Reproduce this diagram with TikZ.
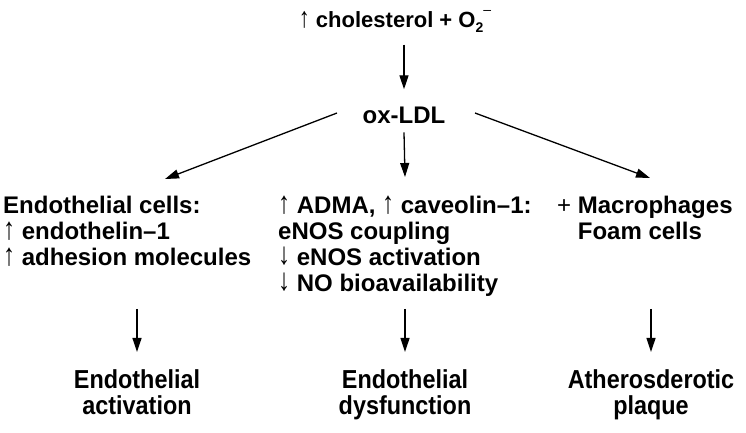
\documentclass[tikz,border=0pt]{standalone}
\usepackage{fontspec}
\setmainfont{Liberation Sans}
\newfontfamily\bfam{Liberation Sans}[UprightFont=* Bold]
\newfontfamily\nfam{Liberation Sans}[UprightFont=* Bold, FakeStretch=0.9]
\newfontfamily\rfam{Liberation Sans}
\usetikzlibrary{arrows.meta}
\newcommand{\upar}{\smash{\scalebox{1}[1.3]{\rfam ↑}}}
\newcommand{\dnar}{\smash{\raisebox{1pt}{\scalebox{1}[1.3]{\rfam ↓}}}}
\newcommand{\smallfs}{\fontsize{14}{14}\selectfont}
\newcommand{\Otwominus}{O\raisebox{-0.25em}{\smallfs 2}\raisebox{0.55em}{\smallfs\rfam –}}
\begin{document}
\begin{tikzpicture}[x=1pt,y=-1pt,
  txt/.style={font=\bfam\fontsize{24}{26}\selectfont, inner sep=0pt, align=left},
  res/.style={font=\nfam\fontsize{26}{26}\selectfont, inner sep=0pt, align=center},
  arr/.style={line width=1.3pt, -{Triangle[length=14pt,width=9pt]}}]
\useasboundingbox (0,0) rectangle (746,432);

\node[txt, font=\bfam\fontsize{22}{26}\selectfont, anchor=base] (top) at (395,27) {\upar\ cholesterol + \Otwominus};
\node[txt, anchor=base] (ox) at (404,123) {ox-LDL};

\node[txt, anchor=base west] (ec) at (3,265) {Endothelial cells:\\\upar\ endothelin–1\\\upar\ adhesion molecules};
\node[txt, anchor=base west] (en) at (278,291) {\upar\ ADMA, \upar\ caveolin–1:\\eNOS coupling\\\dnar\ eNOS activation\\\dnar\ NO bioavailability};
\node[txt, anchor=base west] (mf) at (557,239) {{\rfam +}\ Macrophages\\\phantom{{\rfam +}\ }Foam cells};

\node[res, anchor=base] (r1) at (137,414) {Endothelial\\activation};
\node[res, anchor=base] (r2) at (405,414) {Endothelial\\dysfunction};
\node[res, anchor=base] (r3) at (651,414) {Atherosderotic\\plaque};

\coordinate (ltip) at (165,179);
\coordinate (rtip) at (650,178);
\coordinate (lsrc) at (337,113);
\coordinate (rsrc) at (475,113);
\coordinate (mtip) at (405,177);

\draw[arr] (top.south -| ox) ++(0,12) -- ([yshift=17pt]ox.north);
\draw[arr] (lsrc) -- (ltip);
\draw[arr] (rsrc) -- (rtip);
\draw[arr] (ox.south) ++(0,9) -- (mtip);
\draw[arr] (r1.north) ++(0,-60) -- ([yshift=17pt]r1.north);
\draw[arr] (r2.north) ++(0,-60) -- ([yshift=17pt]r2.north);
\draw[arr] (r3.north) ++(0,-60) -- ([yshift=17pt]r3.north);
\end{tikzpicture}
\end{document}
